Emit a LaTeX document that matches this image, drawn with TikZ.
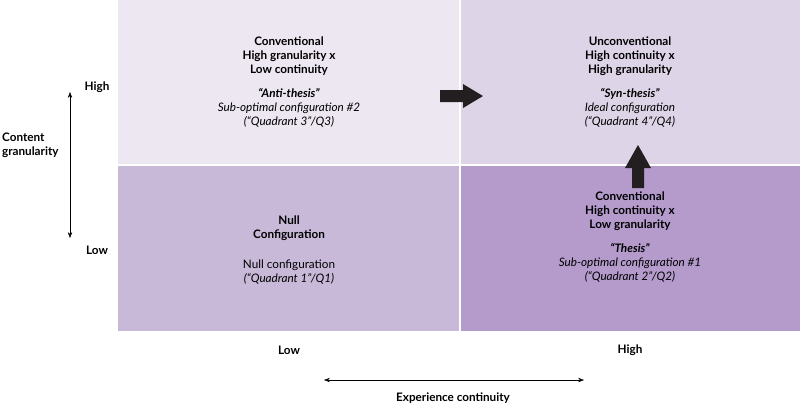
\documentclass[tikz,border=0pt]{standalone}
\usepackage{fontspec}
\setmainfont{Lato}
\usetikzlibrary{arrows.meta}
\definecolor{qone}{RGB}{201,185,217}
\definecolor{qtwo}{RGB}{180,155,204}
\definecolor{qthree}{RGB}{237,231,242}
\definecolor{qfour}{RGB}{222,212,231}
\definecolor{arrowgray}{RGB}{35,31,32}
\tikzset{
  quad/.style={align=center, font=\fontsize{10}{11.9}\selectfont},
  axlabel/.style={font=\fontsize{10}{11.9}\selectfont\bfseries}
}
\begin{document}
\begin{tikzpicture}[x=0.03cm,y=-0.03cm]
\useasboundingbox (0,0) rectangle (800,406);

% Quadrants
\fill[qthree] (118,0) rectangle (459,164);
\fill[qfour] (461,0) rectangle (800,164);
\fill[qone] (118,166) rectangle (459,331);
\fill[qtwo] (461,166) rectangle (800,331);

% Quadrant texts
\node[quad] (q3) at (289,82) {\textbf{Conventional}\\\textbf{High granularity x}\\\textbf{Low continuity}\\[0.9em]
  \textbf{\textit{``Anti-thesis''}}\\\textit{Sub-optimal configuration \#2}\\\textit{(``Quadrant 3''/Q3)}};
\node[quad] (q4) at (630,82) {\textbf{Unconventional}\\\textbf{High continuity x}\\\textbf{High granularity}\\[0.9em]
  \textbf{\textit{``Syn-thesis''}}\\\textit{Ideal configuration}\\\textit{(``Quadrant 4''/Q4)}};
\node[quad] (q1) at (289,250) {\textbf{Null}\\\textbf{Configuration}\\[1.3em]
  Null configuration\\\textit{(``Quadrant 1''/Q1)}};
\node[quad] (q2) at (630,237) {\textbf{Conventional}\\\textbf{High continuity x}\\\textbf{Low granularity}\\[0.9em]
  \textbf{\textit{``Thesis''}}\\\textit{Sub-optimal configuration \#1}\\\textit{(``Quadrant 2''/Q2)}};

% Block arrows
\fill[arrowgray] (440,90) -- (463,90) -- (463,84) -- (483,96) -- (463,108)
  -- (463,102) -- (440,102) -- cycle;
\fill[arrowgray] (632,188) -- (632,168) -- (625,168) -- (638,145) -- (651,168)
  -- (644,168) -- (644,188) -- cycle;

% Axes
\node[axlabel] (yhigh) at (97,87) {High};
\node[axlabel] (ylow) at (97,250) {Low};
\node[axlabel, align=left, anchor=west] (ytitle) at (-2,145) {Content\\granularity};
\coordinate (ytop) at (70,92);
\coordinate (ybot) at (70,238);
\draw[{Stealth[length=5pt]}-{Stealth[length=5pt]}] (ytop) -- (ybot);

\node[axlabel] (xlow) at (289,350) {Low};
\node[axlabel] (xhigh) at (630,350) {High};
\node[axlabel] (xtitle) at (453,398) {Experience continuity};
\coordinate (xleft) at (324,380);
\coordinate (xright) at (584,380);
\draw[{Stealth[length=5pt]}-{Stealth[length=5pt]}] (xleft) -- (xright);
\end{tikzpicture}
\end{document}
